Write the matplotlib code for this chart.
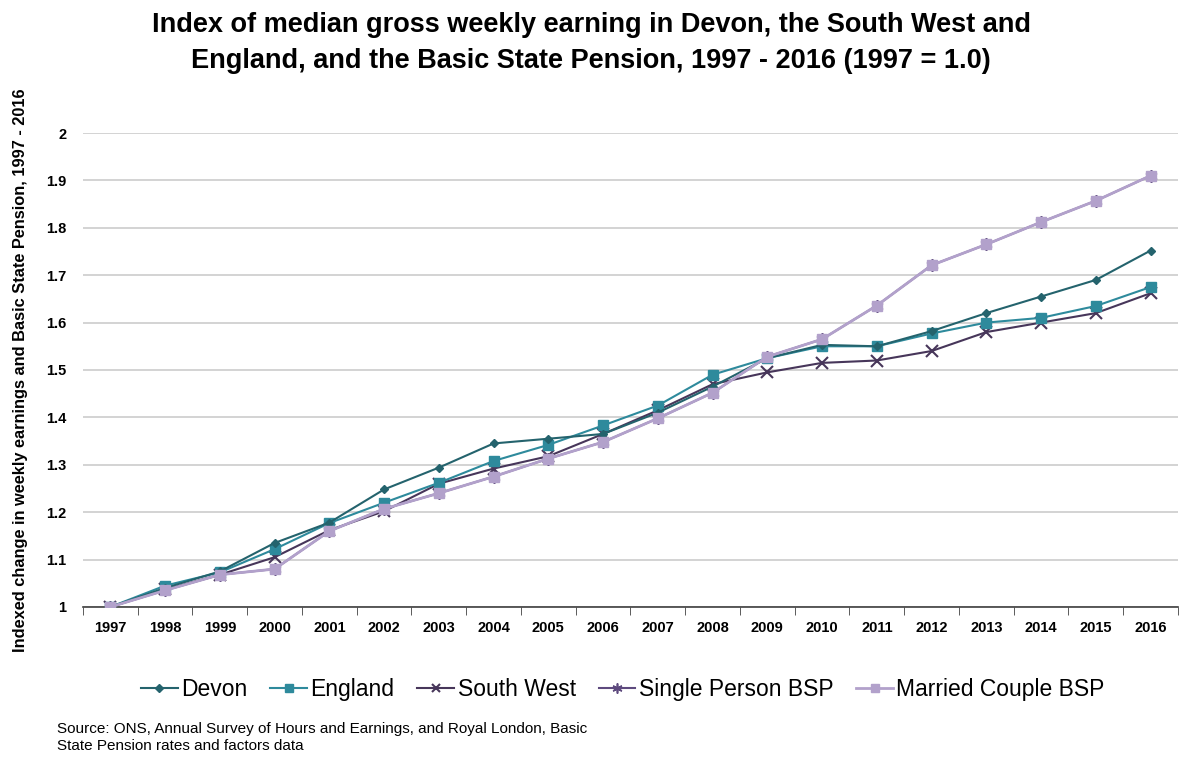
import matplotlib
matplotlib.use("Agg")
import matplotlib.pyplot as plt
import numpy as np

plt.rcParams['font.family'] = ['Liberation Sans', 'DejaVu Sans']

years = [str(y) for y in range(1997, 2017)]
devon = [1.0, 1.04, 1.075, 1.135, 1.178, 1.248, 1.294, 1.345, 1.355, 1.365,
         1.41, 1.465, 1.525, 1.553, 1.55, 1.582, 1.62, 1.655, 1.69, 1.752]
england = [1.0, 1.045, 1.073, 1.122, 1.177, 1.22, 1.262, 1.308, 1.342, 1.383,
           1.425, 1.49, 1.525, 1.55, 1.55, 1.577, 1.60, 1.61, 1.635, 1.675]
south_west = [1.0, 1.037, 1.068, 1.105, 1.162, 1.202, 1.26, 1.292, 1.318, 1.365,
              1.415, 1.47, 1.495, 1.515, 1.52, 1.54, 1.58, 1.60, 1.62, 1.662]
single_bsp = [1.0, 1.035, 1.068, 1.08, 1.16, 1.207, 1.24, 1.275, 1.313, 1.348,
              1.398, 1.452, 1.528, 1.565, 1.636, 1.721, 1.765, 1.812, 1.857, 1.91]
married_bsp = [1.0, 1.035, 1.068, 1.08, 1.16, 1.207, 1.24, 1.275, 1.313, 1.348,
               1.398, 1.452, 1.528, 1.565, 1.636, 1.721, 1.765, 1.812, 1.857, 1.91]
y_ticks = [1, 1.1, 1.2, 1.3, 1.4, 1.5, 1.6, 1.7, 1.8, 1.9, 2]
y_tick_labels = ['1', '1.1', '1.2', '1.3', '1.4', '1.5', '1.6', '1.7', '1.8', '1.9', '2']

fig = plt.figure(figsize=(11.82, 7.57), dpi=100)
ax = fig.add_axes([0.0702, 0.1982, 0.9264, 0.6261])

x = np.arange(len(years))
ax.plot(x, devon, color='#24636d', marker='D', markersize=4.5, lw=1.5, label='Devon', zorder=5)
ax.plot(x, england, color='#2e8a9c', marker='s', markersize=6.5, lw=1.5, label='England', zorder=4)
ax.plot(x, south_west, color='#47365a', marker='x', markersize=8, mew=1.5, lw=1.5, label='South West', zorder=3)
ax.plot(x, single_bsp, color='#5e4a7e', marker=(6, 2, 0), markersize=9, mew=1.2, lw=1.5, label='Single Person BSP', zorder=2)
ax.plot(x, married_bsp, color='#b2a1cb', marker='s', markersize=7, lw=2, label='Married Couple BSP', zorder=6)

ax.set_xlim(-0.5, len(years) - 0.5)
ax.set_ylim(1, 2)
ax.set_yticks(y_ticks)
ax.set_yticklabels(y_tick_labels, fontsize=10.5, fontweight='bold')
ax.set_xticks(x)
ax.set_xticklabels(years, fontsize=10.5, fontweight='bold')
ax.set_xticks(np.arange(-0.5, len(years)), minor=True)
ax.tick_params(axis='x', which='major', length=0, pad=10)
ax.tick_params(axis='x', which='minor', length=6, color='#404040')
ax.tick_params(axis='y', length=0, pad=12)
ax.grid(axis='y', color='#d0d0d0', lw=1.3)
ax.set_axisbelow(True)
for s in ['top', 'right', 'left']:
    ax.spines[s].set_visible(False)
ax.spines['bottom'].set_color('#404040')
ax.spines['bottom'].set_linewidth(1.2)

ax.set_ylabel('Indexed change in weekly earnings and Basic State Pension, 1997 - 2016',
              fontsize=11.8, fontweight='bold')
ax.yaxis.set_label_coords(-0.05, 0.5)

fig.text(0.5, 0.984, 'Index of median gross weekly earning in Devon, the South West and\n'
         'England, and the Basic State Pension, 1997 - 2016 (1997 = 1.0)',
         ha='center', va='top', fontsize=19.5, fontweight='bold', linespacing=1.5)

fig.legend(loc='center', bbox_to_anchor=(0.527, 0.089), ncol=5, frameon=False,
           fontsize=16.5, handlelength=1.6, handletextpad=0.15, columnspacing=1.0,
           markerscale=0.8)

fig.text(0.048, 0.026, 'Source: ONS, Annual Survey of Hours and Earnings, and Royal London, Basic\n'
         'State Pension rates and factors data', ha='left', va='center', fontsize=11, linespacing=1.3)

fig.savefig('out.png', dpi=100)
